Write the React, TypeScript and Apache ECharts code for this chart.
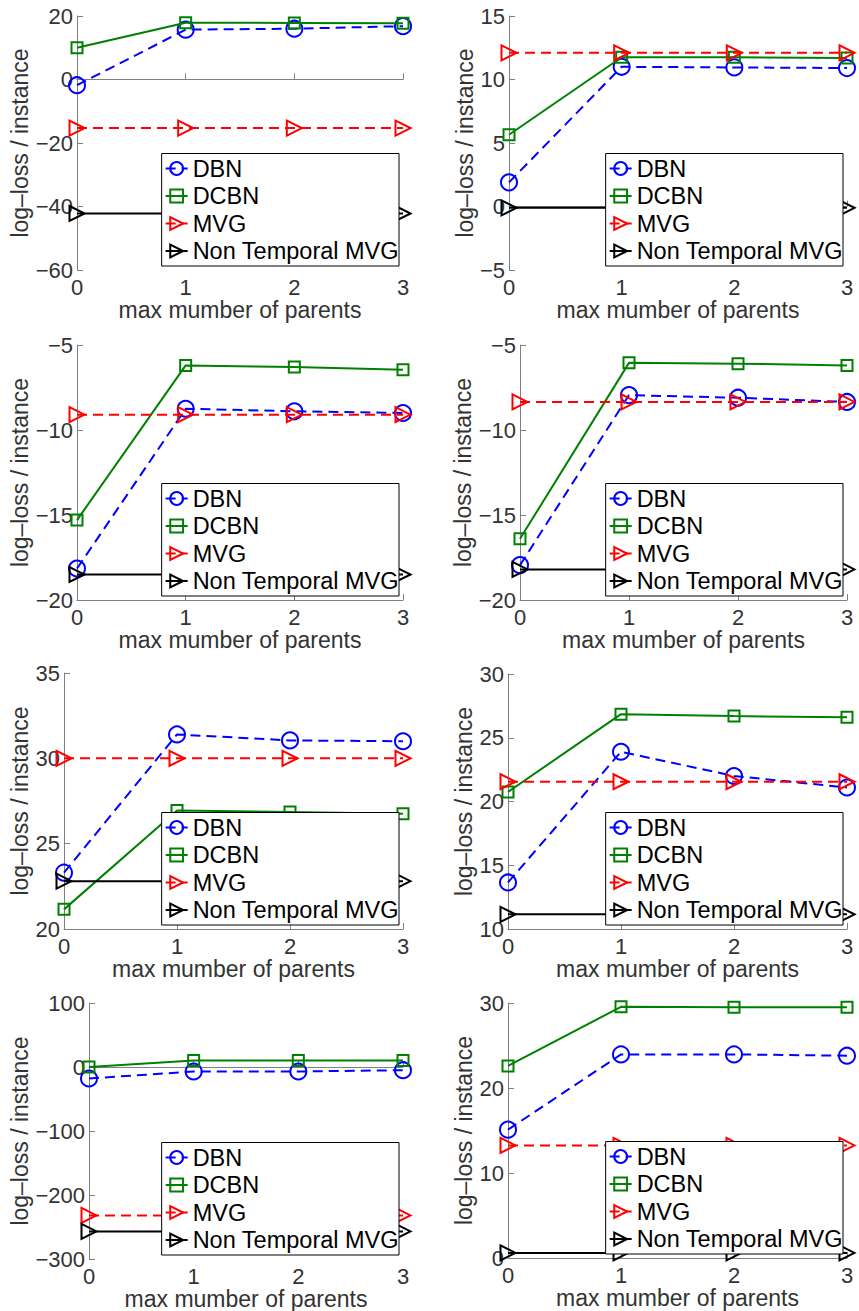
import React, { useEffect, useRef } from 'react';
import * as echarts from 'echarts';

const xValues = [0, 1, 2, 3];
const seriesNames = ['DBN', 'DCBN', 'MVG', 'Non Temporal MVG'];
const xAxisLabel = 'max mumber of parents';
const yAxisLabel = 'log–loss / instance';

// Panel 1 (row 1, left)
const p1DBN = [-1.8, 15.7, 16.0, 16.8];
const p1DCBN = [10.0, 17.9, 17.8, 17.7];
const p1MVG = [-15.3, -15.3, -15.3, -15.3];
const p1NT = [-42.2, -42.2, -42.2, -42.2];
const p1YTicks = [-60, -40, -20, 0, 20];

// Panel 2 (row 1, right)
const p2DBN = [1.9, 11.0, 10.95, 10.9];
const p2DCBN = [5.65, 11.75, 11.75, 11.7];
const p2MVG = [12.1, 12.1, 12.1, 12.1];
const p2NT = [-0.1, -0.1, -0.1, -0.1];
const p2YTicks = [-5, 0, 5, 10, 15];

// Panel 3 (row 2, left)
const p3DBN = [-18.15, -8.75, -8.9, -9.0];
const p3DCBN = [-15.3, -6.2, -6.3, -6.45];
const p3MVG = [-9.1, -9.1, -9.1, -9.1];
const p3NT = [-18.5, -18.5, -18.5, -18.5];
const p3YTicks = [-20, -15, -10, -5];

// Panel 4 (row 2, right)
const p4DBN = [-17.95, -7.95, -8.1, -8.35];
const p4DCBN = [-16.4, -6.05, -6.1, -6.2];
const p4MVG = [-8.35, -8.35, -8.35, -8.35];
const p4NT = [-18.2, -18.2, -18.2, -18.2];
const p4YTicks = [-20, -15, -10, -5];

// Panel 5 (row 3, left)
const p5DBN = [23.3, 31.4, 31.05, 31.0];
const p5DCBN = [21.15, 26.95, 26.85, 26.75];
const p5MVG = [30.0, 30.0, 30.0, 30.0];
const p5NT = [22.8, 22.8, 22.8, 22.8];
const p5YTicks = [20, 25, 30, 35];

// Panel 6 (row 3, right)
const p6DBN = [13.65, 23.9, 22.0, 21.1];
const p6DCBN = [20.75, 26.85, 26.7, 26.6];
const p6MVG = [21.55, 21.55, 21.55, 21.55];
const p6NT = [11.15, 11.15, 11.15, 11.15];
const p6YTicks = [10, 15, 20, 25, 30];

// Panel 7 (row 4, left)
const p7DBN = [-18, -7, -7, -5];
const p7DCBN = [0, 10, 10, 10];
const p7MVG = [-232, -232, -232, -232];
const p7NT = [-257, -257, -257, -257];
const p7YTicks = [-300, -200, -100, 0, 100];

// Panel 8 (row 4, right)
const p8DBN = [15.1, 23.95, 23.95, 23.8];
const p8DCBN = [22.6, 29.55, 29.5, 29.5];
const p8MVG = [13.25, 13.25, 13.25, 13.25];
const p8NT = [0.6, 0.6, 0.6, 0.6];
const p8YTicks = [0, 10, 20, 30];

const panelData = [
  { dbn: p1DBN, dcbn: p1DCBN, mvg: p1MVG, nt: p1NT, ticks: p1YTicks },
  { dbn: p2DBN, dcbn: p2DCBN, mvg: p2MVG, nt: p2NT, ticks: p2YTicks },
  { dbn: p3DBN, dcbn: p3DCBN, mvg: p3MVG, nt: p3NT, ticks: p3YTicks },
  { dbn: p4DBN, dcbn: p4DCBN, mvg: p4MVG, nt: p4NT, ticks: p4YTicks },
  { dbn: p5DBN, dcbn: p5DCBN, mvg: p5MVG, nt: p5NT, ticks: p5YTicks },
  { dbn: p6DBN, dcbn: p6DCBN, mvg: p6MVG, nt: p6NT, ticks: p6YTicks },
  { dbn: p7DBN, dcbn: p7DCBN, mvg: p7MVG, nt: p7NT, ticks: p7YTicks },
  { dbn: p8DBN, dcbn: p8DCBN, mvg: p8MVG, nt: p8NT, ticks: p8YTicks },
];

// Layout (pixels): axis x, plot top, plot right, axis y, y-label center x
const layouts = [
  { left: 77, top: 16, right: 403, bottom: 270, labelX: 22 },
  { left: 509, top: 16, right: 847, bottom: 270, labelX: 465 },
  { left: 77, top: 345, right: 403, bottom: 600, labelX: 22 },
  { left: 520, top: 345, right: 847, bottom: 600, labelX: 465 },
  { left: 64, top: 673, right: 403, bottom: 929, labelX: 22 },
  { left: 508, top: 674, right: 847, bottom: 929, labelX: 465 },
  { left: 89, top: 1003, right: 403, bottom: 1259, labelX: 22 },
  { left: 508, top: 1003, right: 847, bottom: 1258, labelX: 465 },
];

const W = 859;
const H = 1311;
const FONT = '"Liberation Sans", Arial, Helvetica, sans-serif';
const AXIS_COLOR = '#808080';
const TEXT_COLOR = '#333333';

const styles = [
  { color: '#0000ff', dash: [10, 6] as any, symbol: 'circle', size: 16, rotate: 0 },
  { color: '#008000', dash: 'solid' as any, symbol: 'rect', size: 11, rotate: 0 },
  { color: '#ff0000', dash: [10, 6] as any, symbol: 'triangle', size: 15, rotate: -90 },
  { color: '#000000', dash: 'solid' as any, symbol: 'triangle', size: 15, rotate: -90 },
];

const fmt = (v: number) => (v < 0 ? '\u2212' + String(-v) : String(v));

export default function App() {
  const ref = useRef<HTMLDivElement>(null);
  useEffect(() => {
    if (!ref.current) return;
    const chart = echarts.init(ref.current, undefined, { renderer: 'svg', width: W, height: H });
    const grid: any[] = [];
    const xAxis: any[] = [];
    const yAxis: any[] = [];
    const series: any[] = [];
    const legend: any[] = [];
    panelData.forEach((p, i) => {
      const L = layouts[i];
      grid.push({
        left: L.left,
        top: L.top,
        width: L.right - L.left,
        height: L.bottom - L.top,
        containLabel: false,
        outerBoundsMode: 'none',
      });
      xAxis.push({
        type: 'value',
        gridIndex: i,
        min: xValues[0],
        max: xValues[xValues.length - 1],
        interval: 1,
        axisLine: { show: true, lineStyle: { color: AXIS_COLOR, width: 1 } },
        axisTick: { show: true, inside: true, length: 6, lineStyle: { color: AXIS_COLOR } },
        splitLine: { show: false },
        axisLabel: { fontSize: 22, color: TEXT_COLOR, margin: 6, fontFamily: FONT },
        name: xAxisLabel,
        nameLocation: 'middle',
        nameGap: 23,
        nameTextStyle: { fontSize: 23, color: TEXT_COLOR, fontFamily: FONT },
      });
      const t = p.ticks;
      yAxis.push({
        type: 'value',
        gridIndex: i,
        min: t[0],
        max: t[t.length - 1],
        interval: t[1] - t[0],
        axisLine: { show: true, lineStyle: { color: AXIS_COLOR, width: 1 } },
        axisTick: { show: true, inside: true, length: 6, lineStyle: { color: AXIS_COLOR } },
        splitLine: { show: false },
        axisLabel: { fontSize: 22, color: TEXT_COLOR, margin: 4, fontFamily: FONT, formatter: fmt },
        name: yAxisLabel,
        nameLocation: 'middle',
        nameRotate: 90,
        nameGap: L.left - L.labelX - 11,
        nameTextStyle: { fontSize: 23, color: TEXT_COLOR, fontFamily: FONT },
      });
      const vals = [p.dbn, p.dcbn, p.mvg, p.nt];
      vals.forEach((v, k) => {
        const s = styles[k];
        series.push({
          type: 'line',
          name: seriesNames[k],
          xAxisIndex: i,
          yAxisIndex: i,
          data: xValues.map((x, j) => [x, v[j]]),
          symbol: s.symbol,
          symbolSize: s.size,
          symbolRotate: s.rotate,
          showAllSymbol: true,
          clip: false,
          lineStyle: { color: s.color, width: 2, type: s.dash },
          itemStyle: { color: 'rgba(255,255,255,0)', borderColor: s.color, borderWidth: 2 },
          emphasis: { disabled: true },
          z: 2 + k,
        });
      });
      legend.push({
        data: seriesNames,
        orient: 'vertical',
        right: W - (L.right - 4),
        bottom: H - (L.bottom - 4),
        backgroundColor: '#ffffff',
        borderColor: '#000000',
        borderWidth: 1,
        padding: [3, 0, 3, 3],
        itemGap: 3.5,
        itemWidth: 22,
        itemHeight: 16,
        selectedMode: false,
        textStyle: { fontSize: 23.5, color: '#000000', fontFamily: FONT, lineHeight: 24 },
        z: 10,
      });
    });
    chart.setOption({
      animation: false,
      backgroundColor: '#ffffff',
      grid,
      xAxis,
      yAxis,
      series,
      legend,
    });
    return () => chart.dispose();
  }, []);
  return (
    <div
      ref={ref}
      style={{ position: 'absolute', left: 0, top: 0, width: W, height: H, background: '#fff' }}
    />
  );
}
